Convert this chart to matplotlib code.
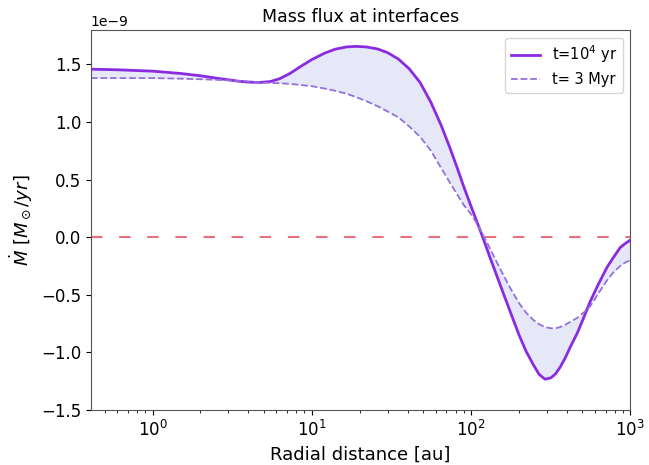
import numpy as np
import matplotlib
matplotlib.use("Agg")
import matplotlib.pyplot as plt

# Radial grid [au]
radius = [0.41, 0.6, 1.0, 1.5, 2.0, 2.5, 3.0, 3.5, 4.0, 4.7, 5.5, 6.3, 7.3, 8.5, 10,
          12, 14, 16.5, 19, 22, 26, 30, 35, 41, 48, 56, 65, 74, 82, 90, 100, 110,
          120, 132, 145, 160, 178, 200, 222, 245, 268, 292, 318, 340, 363, 390,
          420, 465, 510, 560, 630, 716, 790, 865, 930, 1000]

# Mass flux [1e-9 Msun/yr], t = 1e4 yr
mdot_early = [1.457, 1.452, 1.44, 1.42, 1.40, 1.38, 1.365, 1.352, 1.345, 1.342,
              1.35, 1.375, 1.42, 1.48, 1.54, 1.595, 1.63, 1.65, 1.655, 1.65, 1.632,
              1.60, 1.545, 1.46, 1.34, 1.17, 0.97, 0.77, 0.60, 0.44, 0.27, 0.12,
              -0.02, -0.18, -0.33, -0.49, -0.66, -0.845, -0.99, -1.10, -1.19,
              -1.232, -1.22, -1.185, -1.128, -1.05, -0.954, -0.833, -0.70, -0.56,
              -0.41, -0.26, -0.17, -0.09, -0.055, -0.026]

# Mass flux [1e-9 Msun/yr], t = 3 Myr
mdot_late = [1.38, 1.38, 1.38, 1.375, 1.37, 1.365, 1.36, 1.355, 1.35, 1.343, 1.338,
             1.335, 1.33, 1.32, 1.31, 1.29, 1.27, 1.245, 1.215, 1.18, 1.135, 1.09,
             1.04, 0.96, 0.87, 0.75, 0.60, 0.47, 0.37, 0.28, 0.20, 0.11, 0.01,
             -0.10, -0.215, -0.33, -0.45, -0.57, -0.655, -0.715, -0.755, -0.78,
             -0.79, -0.79, -0.78, -0.76, -0.735, -0.70, -0.655, -0.60, -0.49,
             -0.373, -0.30, -0.25, -0.22, -0.20]

labels = [r"t=$10^4$ yr", "t= 3 Myr"]

r = np.array(radius)
m1 = np.array(mdot_early) * 1e-9
m2 = np.array(mdot_late) * 1e-9

fig = plt.figure(figsize=(6.49, 4.65), dpi=100)
ax = fig.add_axes([0.140, 0.118, 0.831, 0.817])

ax.fill_between(r, m1, m2, color="#e6e8f7", linewidth=0)
ax.plot(r, m1, color="blueviolet", lw=2, label=labels[0])
ax.plot(r, m2, color="mediumpurple", lw=1.3, ls="--", label=labels[1])
ax.axhline(0, color="#e8707f", lw=1.5, ls=(0, (5.5, 8)))

ax.set_xscale("log")
ax.set_xlim(0.41, 1000)
ax.set_ylim(-1.5e-9, 1.795e-9)
ax.set_yticks(np.arange(-1.5, 1.51, 0.5) * 1e-9)

ax.set_title("Mass flux at interfaces", fontsize=12.5)
ax.set_xlabel("Radial distance [au]", fontsize=13)
ax.set_ylabel(r"$\dot{M}\ [M_\odot/yr]$", fontsize=13)
ax.tick_params(labelsize=12)
ax.yaxis.get_offset_text().set_fontsize(10)
for s in ax.spines.values():
    s.set_color("#555555")

ax.legend(loc="upper right", fontsize=10.5)

fig.savefig("out.png", dpi=100)
